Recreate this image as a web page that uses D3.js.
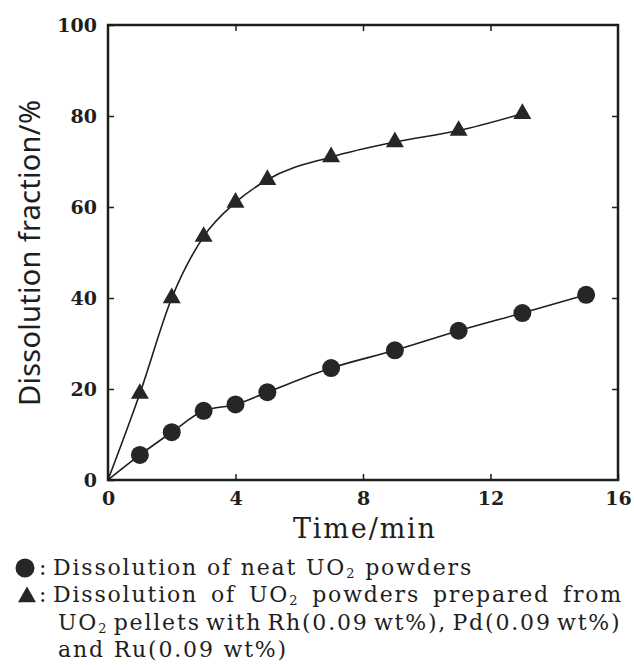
<!DOCTYPE html>
<html><head><meta charset="utf-8">
<script src="https://cdn.jsdelivr.net/npm/d3@7/dist/d3.min.js"></script>
<style>html,body{margin:0;padding:0;background:#fff;}svg{display:block;}</style>
</head><body>
<svg id="c" width="634" height="665"></svg>
<script>
// ---- data ----
const triTimes = [1, 2, 3, 4, 5, 7, 9, 11, 13];
const triValues = [19, 40, 53.5, 61, 66, 71, 74.3, 76.8, 80.5];
const circTimes = [1, 2, 3, 4, 5, 7, 9, 11, 13, 15];
const circValues = [5.5, 10.5, 15.2, 16.6, 19.3, 24.6, 28.5, 32.8, 36.7, 40.7];
const xTicks = [0, 4, 8, 12, 16];
const yTicks = [0, 20, 40, 60, 80, 100];
const xTitle = "Time/min";
const yTitle = "Dissolution fraction/%";

const svg = d3.select("#c");
const x = d3.scaleLinear().domain([0, 16]).range([108, 618]);
const y = d3.scaleLinear().domain([0, 100]).range([480, 25]);
const ink = "#1e1e1e";
const serif = "'DejaVu Serif', 'Liberation Serif', serif";

// frame
svg.append("rect").attr("x", x(0)).attr("y", y(100))
  .attr("width", x(16) - x(0)).attr("height", y(0) - y(100))
  .attr("fill", "none").attr("stroke", ink).attr("stroke-width", 2.5);

// axes (ticks inward)
const tickStyle = g => { g.select(".domain").remove(); g.selectAll("line").attr("stroke", ink).attr("stroke-width", 1.5); };
svg.append("g").attr("transform", `translate(0,${y(0)})`)
  .call(d3.axisBottom(x).tickValues(xTicks).tickSizeInner(-6).tickSizeOuter(0).tickPadding(12).tickFormat(d3.format("d")))
  .call(tickStyle)
  .call(g => g.selectAll("text").attr("font-family", serif).attr("font-size", 19).attr("font-weight", "bold").attr("fill", ink));
svg.append("g").attr("transform", `translate(0,${y(100)})`)
  .call(d3.axisTop(x).tickValues(xTicks.slice(1, -1)).tickSizeInner(-6).tickSizeOuter(0).tickFormat(""))
  .call(tickStyle);
svg.append("g").attr("transform", `translate(${x(0)},0)`)
  .call(d3.axisLeft(y).tickValues(yTicks).tickSizeInner(-6).tickSizeOuter(0).tickPadding(11).tickFormat(d3.format("d")))
  .call(tickStyle)
  .call(g => g.selectAll("text").attr("font-family", serif).attr("font-size", 19).attr("font-weight", "bold").attr("fill", ink));
svg.append("g").attr("transform", `translate(${x(16)},0)`)
  .call(d3.axisRight(y).tickValues(yTicks.slice(1, -1)).tickSizeInner(-6).tickSizeOuter(0).tickFormat(""))
  .call(tickStyle);

// titles
svg.append("text").attr("x", 293).attr("y", 538)
  .attr("textLength", 142).attr("lengthAdjust", "spacing")
  .attr("font-family", serif).attr("font-size", 27).attr("fill", ink).text(xTitle);
svg.append("text").attr("transform", `translate(40,${406}) rotate(-90)`)
  .attr("textLength", 306).attr("lengthAdjust", "spacing")
  .attr("font-family", "'Noto Sans', 'DejaVu Sans', sans-serif").attr("font-size", 29).attr("fill", ink).text(yTitle);

// lines
const line = d3.line().x(d => x(d[0])).y(d => y(d[1])).curve(d3.curveMonotoneX);
const triPts = [[0, 0]].concat(triTimes.map((t, i) => [t, triValues[i]]));
const circPts = [[0, 0]].concat(circTimes.map((t, i) => [t, circValues[i]]));
svg.append("path").attr("d", line(triPts)).attr("fill", "none").attr("stroke", ink).attr("stroke-width", 1.6);
svg.append("path").attr("d", line(circPts)).attr("fill", "none").attr("stroke", ink).attr("stroke-width", 1.6);

// markers
const tri = d3.symbol().type(d3.symbolTriangle).size(140);
svg.append("g").selectAll("path").data(triPts.slice(1)).join("path")
  .attr("d", tri).attr("transform", d => `translate(${x(d[0])},${y(d[1])})`).attr("fill", "#262626");
svg.append("g").selectAll("circle").data(circPts.slice(1)).join("circle")
  .attr("cx", d => x(d[0])).attr("cy", d => y(d[1])).attr("r", 9).attr("fill", "#262626");

// legend
const lg = svg.append("g").attr("font-family", serif).attr("font-size", 22).attr("fill", ink);
lg.append("circle").attr("cx", 25).attr("cy", 568).attr("r", 9.5).attr("fill", "#262626");
lg.append("path").attr("d", tri).attr("transform", "translate(27,597)").attr("fill", "#262626");
lg.append("text").attr("x", 39).attr("y", 575).text(":");
lg.append("text").attr("x", 39).attr("y", 602).text(":");

function makeLine(xx, yy, parts) {
  const t = lg.append("text").attr("x", xx).attr("y", yy);
  parts.forEach(p => {
    if (typeof p === "string") t.append("tspan").text(p);
    else t.append("tspan").attr("font-size", 13).attr("baseline-shift", "-3").text(p.sub);
  });
  return t;
}
const l1 = makeLine(53, 575, ["Dissolution of neat UO", {sub: "2"}, " powders"]);
const l2 = makeLine(53, 602, ["Dissolution of UO", {sub: "2"}, " powders prepared from"]);
const l3 = makeLine(58, 630, ["UO", {sub: "2"}, " pellets with Rh(0.09 wt%), Pd(0.09 wt%)"]);
const l4 = makeLine(58, 657, ["and Ru(0.09 wt%)"]);

// letter spacing derived so that line 1 spans its reference width
const w1 = l1.node().getBBox().width;
const ls = Math.max(0, (420 - w1) / 31);
[l1, l2, l3, l4].forEach(t => t.attr("letter-spacing", ls));
function justify(t, target, spaces) {
  const w = t.node().getBBox().width;
  t.attr("word-spacing", (target - w) / spaces);
}
justify(l2, 570, 5);
justify(l3, 567, 5);
</script>
</body></html>
